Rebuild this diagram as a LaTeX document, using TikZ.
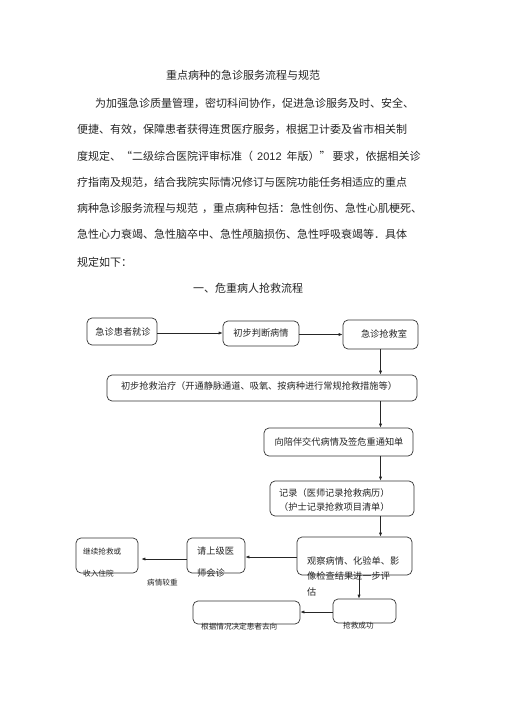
\documentclass[tikz,border=0pt]{standalone}
\usepackage{fontspec}
\newfontfamily\cjk{Noto Sans CJK SC}
\newfontfamily\cjkfull[CharacterWidth=Full]{Noto Sans CJK SC}
\newfontfamily\latinsans{Liberation Sans}
\usetikzlibrary{arrows.meta}
\begin{document}
\begin{tikzpicture}[x=1pt,y=-1pt,
  body/.style={anchor=west,inner sep=0pt,font=\cjkfull\fontsize{11}{13}\selectfont,text=black!85},
  box/.style={draw=black!80,line width=0.7pt,rounded corners=5pt,inner sep=0pt},
  ftext/.style={inner sep=0pt,font=\cjkfull\fontsize{9.2}{11}\selectfont,text=black!85},
  stext/.style={anchor=west,inner sep=0pt,font=\cjk\fontsize{7.6}{9}\selectfont,text=black!85},
  flow/.style={draw=black!85,line width=0.7pt,-{Latex[length=4pt,width=3.2pt]}}]
\useasboundingbox (0,0) rectangle (505,714);
\fill[white] (0,0) rectangle (505,714);

% heading text
\node[inner sep=0pt,font=\cjk\fontsize{11}{13}\selectfont,text=black!85] (title) at (243,75) {重点病种的急诊服务流程与规范};
\node[body] (p1) at (95,103) {为加强急诊质量管理，密切科间协作，促进急诊服务及时、安全、};
\node[body] (p2) at (77,129) {便捷、有效，保障患者获得连贯医疗服务，根据卫计委及省市相关制};
\node[body] (p3) at (77,156) {度规定、“二级综合医院评审标准（\hspace{4pt}{\latinsans 2012}\hspace{5pt}年版）”\hspace{2pt}要求，依据相关诊};
\node[body] (p4) at (77,182) {疗指南及规范，结合我院实际情况修订与医院功能任务相适应的重点};
\node[body] (p5) at (77,208) {病种急诊服务流程与规范\hspace{4pt}，重点病种包括：急性创伤、急性心肌梗死、};
\node[body] (p6) at (77,234) {急性心力衰竭、急性脑卒中、急性颅脑损伤、急性呼吸衰竭等．具体};
\node[body] (p7) at (77,262) {规定如下：};
\node[inner sep=0pt,font=\cjkfull\fontsize{11}{13}\selectfont,text=black!85] (sec) at (248,288) {一、危重病人抢救流程};

% boxes
\node[box,minimum width=70pt,minimum height=27pt] (b1) at (122,331.5) {};
\node[box,minimum width=76pt,minimum height=25pt] (b2) at (261,333.5) {};
\node[box,minimum width=75pt,minimum height=29pt] (b3) at (380.5,334.5) {};
\node[box,minimum width=310pt,minimum height=26pt] (b4) at (262,388) {};
\node[box,minimum width=149pt,minimum height=28pt] (b5) at (338.5,442) {};
\node[box,minimum width=144pt,minimum height=35pt] (b6) at (342,498.5) {};
\node[box,minimum width=115pt,minimum height=38pt] (b7) at (354.5,556) {};
\node[box,minimum width=58pt,minimum height=35pt] (b8) at (216,555.5) {};
\node[box,minimum width=62pt,minimum height=35pt] (b9) at (107,555.5) {};
\node[box,minimum width=63pt,minimum height=24pt] (b10) at (364.5,611) {};
\node[box,minimum width=107pt,minimum height=23pt] (b11) at (246.5,612.5) {};

% box texts
\node[ftext] (t1) at (123,331.5) {急诊患者就诊};
\node[ftext] (t2) at (261,333.5) {初步判断病情};
\node[ftext] (t3) at (384,334) {急诊抢救室};
\node[ftext] (t4) at (259,386.5) {初步抢救治疗（开通静脉通道、吸氧、按病种进行常规抢救措施等）};
\node[ftext] (t5) at (339,441.5) {向陪伴交代病情及签危重通知单};
\node[ftext,anchor=west] (t6a) at (279,493) {记录（医师记录抢救病历）};
\node[ftext,anchor=west] (t6b) at (279,507) {（护士记录抢救项目清单）};
\node[ftext,anchor=west] (t7a) at (307,561) {观察病情、化验单、影};
\node[ftext,anchor=west] (t7b) at (307,575.5) {像检查结果进一步评};
\node[ftext,anchor=west] (t7c) at (307,592) {估};
\node[ftext,anchor=west] (t8a) at (197,551) {请上级医};
\node[ftext,anchor=west] (t8b) at (197,573) {师会诊};
\node[stext] (t9a) at (83,552) {继续抢救或};
\node[stext] (t9b) at (83,574) {收入住院};
\node[stext] (lbl) at (147,583) {病情较重};
\node[stext] (t10) at (343,626) {抢救成功};
\node[stext] (t11) at (201,627) {根据情况决定患者去向};

% connectors
\draw[flow] ([yshift=-1.5pt]b1.east) -- ([yshift=-1.5pt]b1.east -| b2.west);
\draw[flow] ([yshift=-1pt]b2.east) -- ([yshift=-1pt]b2.east -| b3.west);
\draw[flow] (b3.south) -- (b3.south |- b4.north);
\draw[flow] (b4.south -| b3.south) -- (b5.north -| b3.south);
\draw[flow] (b5.south -| b3.south) -- (b6.north -| b3.south);
\draw[flow] (b6.south -| b3.south) -- (b7.north -| b3.south);
\draw[flow] ([yshift=-1pt]b7.west) -- ([yshift=-1pt]b7.west -| b8.east);
\draw[flow] ([yshift=-3.5pt]b8.west) -- ([yshift=-3.5pt,xshift=3pt]b9.east);
\draw[flow] ([xshift=4.5pt]b7.south) -- ([xshift=4.5pt]b7.south |- b10.north);
\draw[flow] ([yshift=-1pt]b10.west) -- ([yshift=-1pt]b10.west -| b11.east);
\end{tikzpicture}
\end{document}
